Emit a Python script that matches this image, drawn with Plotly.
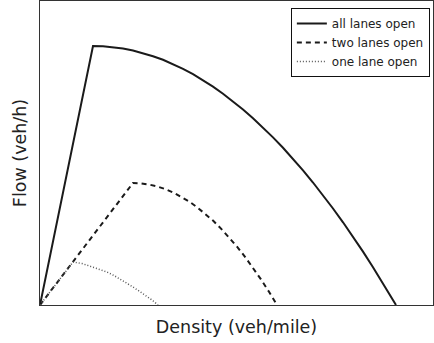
import plotly.graph_objects as go

# Density / flow values (arbitrary units)
all_k = [0, 53, 63, 73, 83, 93, 103, 113, 123, 133, 143, 153, 163, 173, 183, 193, 203,
         213, 223, 233, 243, 253, 263, 273, 283, 293, 303, 313, 323, 333, 343, 356]
all_q = [0, 259, 258.7, 257.9, 256.5, 254.5, 251.9, 248.8, 245.2, 240.9, 236.2, 230.8,
         224.9, 218.4, 211.3, 203.7, 195.5, 186.8, 177.5, 167.6, 157.2, 146.2, 134.6,
         122.5, 109.8, 96.5, 82.7, 68.3, 53.4, 37.8, 21.8, 0]

two_k = [0, 93, 101, 109, 117, 125, 133, 141, 149, 157, 165, 173, 181, 189, 197, 205,
         213, 221, 229, 237]
two_q = [0, 122, 121.6, 120.5, 118.6, 116.0, 112.6, 108.4, 103.6, 97.9, 91.5, 84.4,
         76.4, 67.8, 58.4, 48.2, 37.3, 25.6, 13.2, 0]

one_k = [0, 33, 42, 50, 58, 67, 74, 80, 87, 93, 99, 105, 112, 118]
one_q = [0, 43, 41.5, 39, 36, 33, 29.5, 26, 22, 18, 14, 10, 5, 0]

names = ["all lanes open", "two lanes open", "one lane open"]

fig = go.Figure()
fig.add_trace(go.Scatter(x=all_k, y=all_q, mode="lines", name=names[0],
                         line=dict(color="#1a1a1a", width=2)))
fig.add_trace(go.Scatter(x=two_k, y=two_q, mode="lines", name=names[1],
                         line=dict(color="#1a1a1a", width=2, dash="5px,4px")))
fig.add_trace(go.Scatter(x=one_k, y=one_q, mode="lines", name=names[2],
                         line=dict(color="#555555", width=1.5, dash="1px,2px")))

fig.update_layout(
    width=434, height=343,
    margin=dict(l=40, r=1, t=1, b=38, autoexpand=False),
    paper_bgcolor="white", plot_bgcolor="white",
    font=dict(family="DejaVu Sans", color="#222222"),
    showlegend=True,
    legend=dict(x=0.992, y=0.977, xanchor="right", yanchor="top",
                bordercolor="#111111", borderwidth=1, bgcolor="white",
                font=dict(size=12, family="DejaVu Sans", color="#222222"),
                tracegroupgap=0, itemwidth=30),
)
fig.update_xaxes(range=[0, 393], showticklabels=False, ticks="", showgrid=False,
                 zeroline=False, showline=True, linecolor="#333333", linewidth=1,
                 mirror=True, automargin=False,
                 title=dict(text="Density (veh/mile)", font=dict(size=17.5), standoff=15))
fig.update_yaxes(range=[0, 304], showticklabels=False, ticks="", showgrid=False,
                 zeroline=False, showline=True, linecolor="#333333", linewidth=1,
                 mirror=True, automargin=False,
                 title=dict(text="Flow (veh/h)", font=dict(size=17.5), standoff=7))

fig.write_html("out.html", config={"displayModeBar": False},
               post_script="document.body.style.margin='0px';document.body.style.padding='0px';")
